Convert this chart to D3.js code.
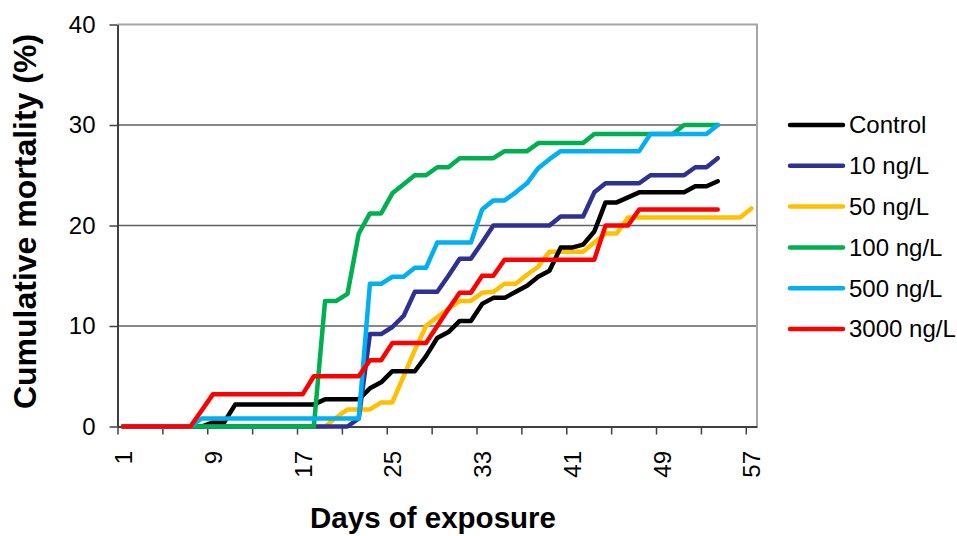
<!DOCTYPE html>
<html>
<head>
<meta charset="utf-8">
<script src="https://cdn.jsdelivr.net/npm/d3@7"></script>
<style>
  body { margin: 0; background: #fff; }
  svg { font-family: 'Liberation Sans', Arial, sans-serif; }
</style>
</head>
<body>
<div id="chart"></div>
<script>
'use strict'

// day categories on the x axis
var days = [1, 2, 3, 4, 5, 6, 7, 8, 9, 10, 11, 12, 13, 14, 15, 16, 17, 18, 19, 20,
  21, 22, 23, 24, 25, 26, 27, 28, 29, 30, 31, 32, 33, 34, 35, 36, 37, 38, 39, 40,
  41, 42, 43, 44, 45, 46, 47, 48, 49, 50, 51, 52, 53, 54, 55, 56, 57];

var xTickLabels = [1, 9, 17, 25, 33, 41, 49, 57];
var yTickLabels = [0, 10, 20, 30, 40];

var seriesNames = ['Control', '10 ng/L', '50 ng/L', '100 ng/L', '500 ng/L', '3000 ng/L'];

// cumulative mortality (%), one value per day starting at day 1
var control = [0, 0, 0, 0, 0, 0, 0, 0, 0.4, 0.4,
  2.2, 2.2, 2.2, 2.2, 2.2, 2.2, 2.2, 2.2, 2.7, 2.7,
  2.7, 2.7, 3.8, 4.4, 5.5, 5.5, 5.5, 7.0, 8.8, 9.4,
  10.5, 10.5, 12.2, 12.8, 12.8, 13.4, 14.0, 14.9, 15.5, 17.8,
  17.8, 18.1, 19.4, 22.3, 22.3, 22.8, 23.3, 23.3, 23.3, 23.3,
  23.3, 23.9, 23.9, 24.4];

var ng10 = [0, 0, 0, 0, 0, 0, 0, 0, 0, 0,
  0, 0, 0, 0, 0, 0, 0, 0, 0, 0,
  0, 0.8, 9.2, 9.2, 9.9, 11.0, 13.4, 13.4, 13.4, 15.0,
  16.7, 16.7, 18.3, 20.0, 20.0, 20.0, 20.0, 20.0, 20.0, 20.9,
  20.9, 20.9, 23.3, 24.2, 24.2, 24.2, 24.2, 25.0, 25.0, 25.0,
  25.0, 25.8, 25.8, 26.7];

var ng50 = [0, 0, 0, 0, 0, 0, 0, 0, 0, 0,
  0, 0, 0, 0, 0, 0, 0, 0, 0, 0.9,
  1.7, 1.7, 1.7, 2.4, 2.4, 5.0, 7.6, 10.0, 10.9, 11.7,
  12.5, 12.5, 13.3, 13.4, 14.2, 14.2, 15.1, 15.9, 17.4, 17.4,
  17.4, 17.4, 18.3, 19.2, 19.2, 20.8, 20.8, 20.8, 20.8, 20.8,
  20.8, 20.8, 20.8, 20.8, 20.8, 20.8, 21.7];

var ng100 = [0, 0, 0, 0, 0, 0, 0, 0, 0, 0,
  0, 0, 0, 0, 0, 0, 0, 0, 12.5, 12.5,
  13.2, 19.2, 21.2, 21.2, 23.2, 24.1, 25.0, 25.0, 25.8, 25.8,
  26.7, 26.7, 26.7, 26.7, 27.4, 27.4, 27.4, 28.2, 28.2, 28.2,
  28.2, 28.2, 29.1, 29.1, 29.1, 29.1, 29.1, 29.1, 29.1, 29.1,
  30.0, 30.0, 30.0, 30.0];

var ng500 = [0, 0, 0, 0, 0, 0, 0, 0.8, 0.8, 0.8,
  0.8, 0.8, 0.8, 0.8, 0.8, 0.8, 0.8, 0.8, 0.8, 0.8,
  0.8, 0.8, 14.2, 14.2, 14.9, 14.9, 15.8, 15.8, 18.3, 18.3,
  18.3, 18.3, 21.6, 22.5, 22.5, 23.3, 24.2, 25.7, 26.6, 27.4,
  27.4, 27.4, 27.4, 27.4, 27.4, 27.4, 27.4, 29.1, 29.1, 29.1,
  29.1, 29.1, 29.1, 30.0];

var ng3000 = [0, 0, 0, 0, 0, 0, 0, 1.6, 3.2, 3.2,
  3.2, 3.2, 3.2, 3.2, 3.2, 3.2, 3.2, 5.0, 5.0, 5.0,
  5.0, 5.0, 6.6, 6.6, 8.3, 8.3, 8.3, 8.3, 10.0, 11.7,
  13.3, 13.3, 15.0, 15.0, 16.6, 16.6, 16.6, 16.6, 16.6, 16.6,
  16.6, 16.6, 16.6, 20.0, 20.0, 20.0, 21.6, 21.6, 21.6, 21.6,
  21.6, 21.6, 21.6, 21.6];

var colors = ['#000000', '#2e3192', '#ffc000', '#00b050', '#00b0f0', '#ff0000'];

(function() {
  var dimensions = { width: 957, height: 536 };
  var plot = { left: 117.5, right: 757, top: 24.5, bottom: 426.5 };

  var allValues = [control, ng10, ng50, ng100, ng500, ng3000];
  var series = seriesNames.map(function(name, i) {
    return {
      name: name,
      color: colors[i],
      points: allValues[i].map(function(v, j) { return { day: days[j], v: v }; })
    };
  });

  var svg = d3.select('#chart').append('svg')
    .attr('width', dimensions.width)
    .attr('height', dimensions.height);

  svg.append('rect')
    .attr('width', dimensions.width)
    .attr('height', dimensions.height)
    .attr('fill', '#fff');

  // categories sit between tick marks
  var x = d3.scaleLinear()
    .domain([days[0] - 0.5, days[days.length - 1] + 0.5])
    .range([plot.left, plot.right]);

  var y = d3.scaleLinear()
    .domain([0, 40])
    .range([plot.bottom, plot.top]);

  // gridlines
  svg.append('g')
    .selectAll('line')
    .data(yTickLabels.filter(function(d) { return d > 0 && d < 40; }))
    .enter()
    .append('line')
    .attr('x1', plot.left)
    .attr('x2', plot.right)
    .attr('y1', function(d) { return y(d); })
    .attr('y2', function(d) { return y(d); })
    .attr('stroke', '#5f5f5f')
    .attr('stroke-width', 1.5);

  // plot frame top + right
  svg.append('path')
    .attr('d', 'M' + plot.left + ',' + y(40) + 'H' + plot.right + 'V' + plot.bottom)
    .attr('fill', 'none')
    .attr('stroke', '#a6a6a6')
    .attr('stroke-width', 2);

  // x tick marks at category boundaries, every 4 days
  var boundaries = days.filter(function(d) { return (d - 1) % 4 === 0; })
    .map(function(d) { return d - 0.5; });

  var xMarks = svg.append('g')
    .attr('transform', 'translate(0,' + plot.bottom + ')')
    .call(d3.axisBottom(x).tickValues(boundaries).tickSize(8).tickSizeOuter(0).tickFormat(''));
  xMarks.select('.domain').attr('stroke', '#404040').attr('stroke-width', 2);
  xMarks.selectAll('.tick line').attr('stroke', '#404040').attr('stroke-width', 1.5);

  var xLabels = svg.append('g')
    .attr('transform', 'translate(0,' + plot.bottom + ')')
    .call(d3.axisBottom(x).tickValues(xTickLabels).tickSize(0));
  xLabels.select('.domain').remove();
  xLabels.selectAll('text')
    .attr('transform', 'rotate(-90)')
    .attr('x', -24.5)
    .attr('y', 0)
    .attr('dy', '0.35em')
    .style('text-anchor', 'end')
    .style('font-size', '24px')
    .style('font-family', "'Liberation Sans', Arial, sans-serif")
    .attr('fill', '#000');

  var yAxis = svg.append('g')
    .attr('transform', 'translate(' + plot.left + ',0)')
    .call(d3.axisLeft(y).tickValues(yTickLabels).tickSize(8).tickSizeOuter(0).tickPadding(14));
  yAxis.select('.domain').attr('stroke', '#404040').attr('stroke-width', 2);
  yAxis.selectAll('.tick line').attr('stroke', '#404040').attr('stroke-width', 1.5);
  yAxis.selectAll('text')
    .style('font-size', '24px')
    .style('font-family', "'Liberation Sans', Arial, sans-serif")
    .attr('fill', '#000');

  // series lines
  var line = d3.line()
    .x(function(d) { return x(d.day); })
    .y(function(d) { return y(d.v); });

  var drawOrder = [2, 0, 1, 3, 4, 5];
  svg.append('g')
    .selectAll('path')
    .data(drawOrder.map(function(i) { return series[i]; }))
    .enter()
    .append('path')
    .attr('d', function(d) { return line(d.points); })
    .attr('fill', 'none')
    .attr('stroke', function(d) { return d.color; })
    .attr('stroke-width', 4.5)
    .attr('stroke-linejoin', 'round')
    .attr('stroke-linecap', 'round');

  // legend
  var legend = svg.append('g')
    .attr('transform', 'translate(790,125)');

  var rows = legend.selectAll('g')
    .data(series)
    .enter()
    .append('g')
    .attr('transform', function(d, i) { return 'translate(0,' + (i * 40.8) + ')'; });

  rows.append('line')
    .attr('x1', 0)
    .attr('x2', 53)
    .attr('stroke', function(d) { return d.color; })
    .attr('stroke-width', 4.5)
    .attr('stroke-linecap', 'round');

  rows.append('text')
    .attr('x', 59)
    .attr('dy', '0.35em')
    .style('font-size', '24px')
    .text(function(d) { return d.name; });

  // axis titles
  svg.append('text')
    .attr('transform', 'translate(36,221.5) rotate(-90)')
    .attr('text-anchor', 'middle')
    .style('font-size', '32px')
    .style('font-weight', 'bold')
    .text('Cumulative mortality (%)');

  svg.append('text')
    .attr('x', 433)
    .attr('y', 528)
    .attr('text-anchor', 'middle')
    .style('font-size', '29.5px')
    .style('font-weight', 'bold')
    .text('Days of exposure');
})();
</script>
</body>
</html>
